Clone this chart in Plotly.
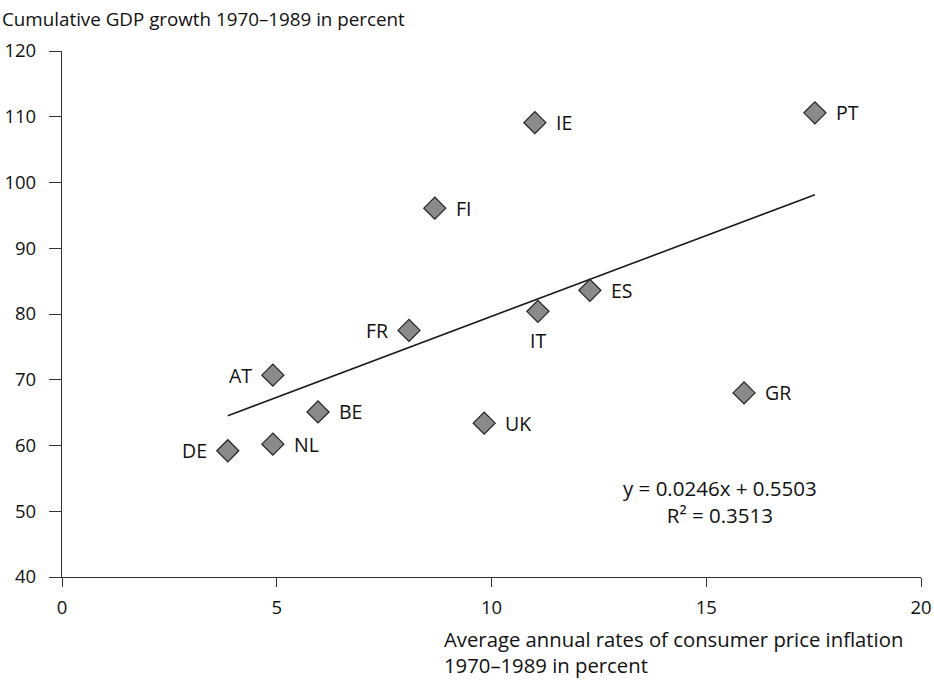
import plotly.graph_objects as go

countries = ["DE", "NL", "AT", "BE", "FR", "FI", "UK", "IE", "IT", "ES", "GR", "PT"]
inflation = [3.86, 4.91, 4.91, 5.96, 8.08, 8.68, 9.83, 11.01, 11.08, 12.29, 15.88, 17.53]
gdp_growth = [59.2, 60.2, 70.7, 65.1, 77.5, 96.1, 63.4, 109.1, 80.4, 83.6, 68.0, 110.6]
label_side = ["left", "right", "left", "right", "left", "right", "right", "right",
              "below", "right", "right", "right"]

slope = 2.46      # percent per percentage point (0.0246 in fractions)
intercept = 55.03  # percent (0.5503 in fractions)
x_ticks = [0, 5, 10, 15, 20]
y_ticks = [40, 50, 60, 70, 80, 90, 100, 110, 120]

FONT = "Open Sans"
TXT = "#111111"
xmin, xmax = min(inflation), max(inflation)

fig = go.Figure()
fig.add_trace(go.Scatter(
    x=[xmin, xmax], y=[slope * xmin + intercept, slope * xmax + intercept],
    mode="lines", line=dict(color="#1a1a1a", width=1.6), hoverinfo="skip", showlegend=False))
fig.add_trace(go.Scatter(
    x=inflation, y=gdp_growth, mode="markers",
    marker=dict(symbol="diamond", size=17, color="#8a8a8a",
                line=dict(color="#222222", width=1.2)),
    showlegend=False))

annotations = []
for c, xv, yv, side in zip(countries, inflation, gdp_growth, label_side):
    if side == "right":
        a = dict(xanchor="left", yanchor="middle", xshift=19, yshift=0)
    elif side == "left":
        a = dict(xanchor="right", yanchor="middle", xshift=-19, yshift=0)
    else:
        a = dict(xanchor="center", yanchor="middle", xshift=0, yshift=-29)
    annotations.append(dict(text=c, x=xv, y=yv, xref="x", yref="y", showarrow=False,
                            font=dict(size=19.5, color=TXT), **a))

annotations += [
    dict(text="Cumulative GDP growth 1970–1989 in percent", xref="paper", yref="paper",
         x=-62/859, y=1 + 32/526, xanchor="left", yanchor="middle", showarrow=False,
         font=dict(size=18.8)),
    dict(text="Average annual rates of consumer price inflation<br>1970–1989 in percent",
         xref="paper", yref="paper", x=(442 - 62)/859, y=-46/526, xanchor="left",
         yanchor="top", align="left", showarrow=False, font=dict(size=20.3)),
    dict(text="y = 0.0246x + 0.5503<br>R² = 0.3513", xref="x", yref="y",
         x=15.32, y=51.5, xanchor="center", yanchor="middle", align="center",
         showarrow=False, font=dict(size=20.5)),
]

fig.update_layout(
    width=934, height=681,
    margin=dict(l=62, r=13, t=51, b=104, autoexpand=False),
    paper_bgcolor="white", plot_bgcolor="white",
    font=dict(family=FONT, size=18, color=TXT),
    xaxis=dict(range=[0, 20], tickvals=x_ticks, showgrid=False, zeroline=False,
               showline=True, linecolor="#333", linewidth=1.3, automargin=False,
               ticks="outside", ticklen=9, tickcolor="#333", tickwidth=1.3,
               ticklabelstandoff=5, tickfont=dict(size=18.5)),
    yaxis=dict(range=[40, 120], tickvals=y_ticks, showgrid=False, zeroline=False,
               showline=True, linecolor="#333", linewidth=1.3, automargin=False,
               ticks="outside", ticklen=12, tickcolor="#333", tickwidth=1.3,
               ticklabelstandoff=9, tickfont=dict(size=18.5)),
    annotations=annotations,
)
fig.write_html("out.html", config={"displayModeBar": False},
               post_script="document.body.style.margin='0';document.body.style.overflow='hidden';")
